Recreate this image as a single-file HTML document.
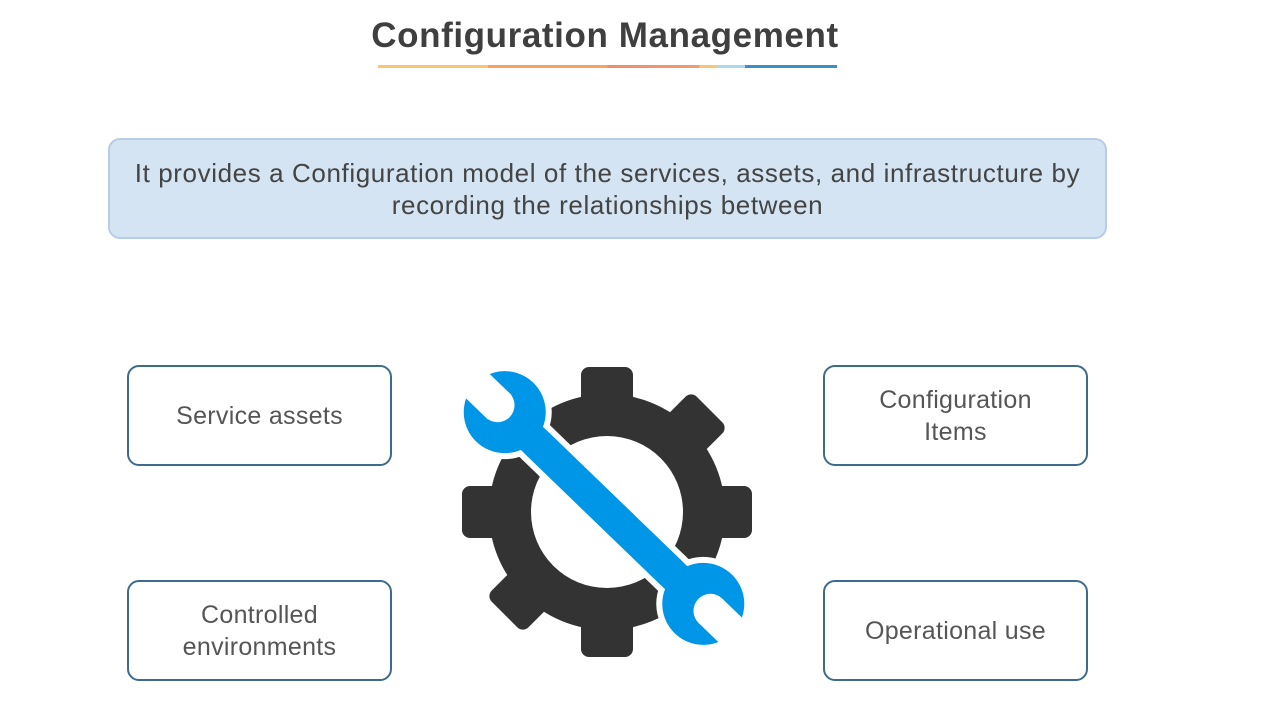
<!DOCTYPE html>
<html><head><style>
body{margin:0;width:1266px;height:711px;background:#fff;font-family:"Liberation Sans",sans-serif;position:relative;overflow:hidden}
.t{position:absolute;left:300px;width:610px;top:16px;text-align:center;font-size:35px;font-weight:bold;color:#3f3f3f;letter-spacing:0.6px}
.ul{position:absolute;left:378px;top:65px;width:459px;height:3px;background:linear-gradient(90deg,#fbc46f 0,#fbc46f 24%,#f7a35f 24%,#f7a35f 50%,#f08a72 50%,#f39a6a 70%,#fbc46f 70%,#fbc46f 74%,#a8d9ec 74%,#a8d9ec 80%,#3a8fc6 80%)}
.info{position:absolute;left:108px;top:138px;width:999px;height:101px;background:#d4e4f3;border:2px solid #b8cce8;border-radius:12px;box-sizing:border-box;display:flex;align-items:center;justify-content:center;text-align:center;font-size:26px;letter-spacing:0.6px;line-height:32px;color:#444}
.b{position:absolute;width:265px;height:101px;border:2px solid #3e6b8c;border-radius:12px;box-sizing:border-box;display:flex;align-items:center;justify-content:center;text-align:center;font-size:25px;letter-spacing:0.3px;line-height:32px;color:#555}
</style></head><body>
<div class="t">Configuration Management</div>
<div class="ul"></div>
<div class="info">It provides a Configuration model of the services, assets, and infrastructure by<br>recording the relationships between</div>
<div class="b" style="left:127px;top:365px">Service assets</div>
<div class="b" style="left:823px;top:365px">Configuration<br>Items</div>
<div class="b" style="left:127px;top:580px">Controlled<br>environments</div>
<div class="b" style="left:823px;top:580px">Operational use</div>
<svg style="position:absolute;left:0;top:0" width="1266" height="711">
<g transform="translate(607,512)" fill="#333">
<circle r="118"/>
<g id="tt"><rect x="-26" y="-145" width="52" height="50" rx="8"/></g>
<use href="#tt" transform="rotate(45)"/><use href="#tt" transform="rotate(90)"/><use href="#tt" transform="rotate(135)"/><use href="#tt" transform="rotate(180)"/><use href="#tt" transform="rotate(225)"/><use href="#tt" transform="rotate(270)"/><use href="#tt" transform="rotate(315)"/>
<circle r="76" fill="#fff"/>
</g>
<g transform="translate(604,508) rotate(44)" fill="#0096e8" stroke="#fff" stroke-width="6">
<rect x="-135" y="-19" width="270" height="38"/>
<circle cx="-138" cy="0" r="44"/>
<circle cx="138" cy="0" r="44"/>
<rect x="-135" y="-16" width="270" height="32" stroke="none"/>
<g fill="#fff" stroke="none">
<rect x="-190" y="-17" width="45" height="34"/><circle cx="-148" cy="0" r="17"/>
<rect x="148" y="-17" width="45" height="34"/><circle cx="148" cy="0" r="17"/>
</g>
</g>
</svg>
</body></html>
